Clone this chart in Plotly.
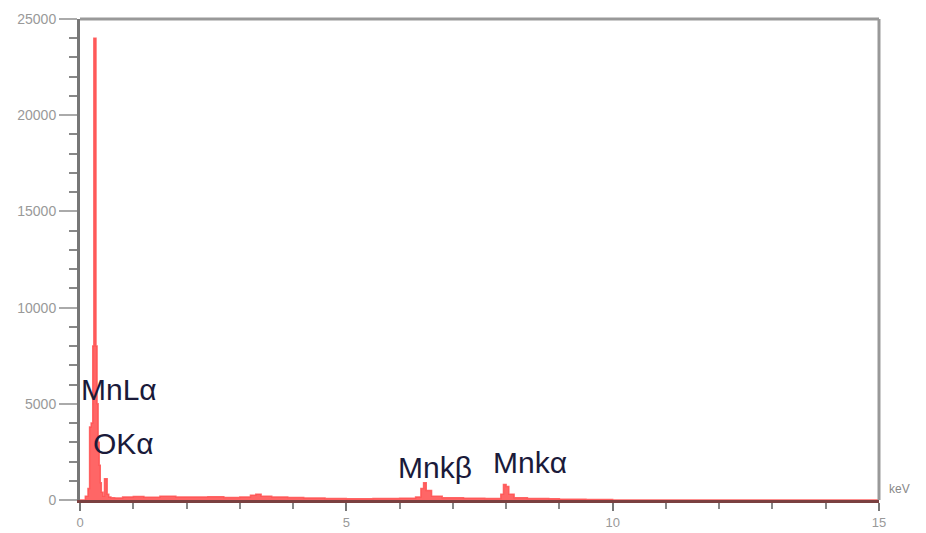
import plotly.graph_objects as go

# Spectrum (energy in keV, counts)
energy_kev = [0.00, 0.10, 0.15, 0.18, 0.21, 0.24, 0.26, 0.28, 0.30, 0.32, 0.34, 0.36, 0.38, 0.40,
              0.43, 0.46, 0.48, 0.51, 0.54, 0.58, 0.65, 0.80, 1.00, 1.20, 1.50, 1.80, 2.10, 2.40,
              2.70, 3.00, 3.20, 3.30, 3.40, 3.60, 3.90, 4.20, 4.60, 5.00, 5.50, 6.00, 6.30, 6.40,
              6.45, 6.50, 6.60, 6.80, 7.20, 7.60, 7.90, 7.95, 8.00, 8.05, 8.15, 8.40, 8.80, 9.00,
              9.50, 10.0, 15.0]
counts = [0, 200, 600, 3800, 4000, 8000, 24000, 24000, 8000, 5000, 3000, 1800, 900, 400,
          200, 1100, 1100, 300, 150, 120, 100, 150, 180, 140, 200, 160, 150, 170,
          130, 160, 250, 300, 200, 150, 130, 110, 80, 70, 80, 90, 150, 600,
          900, 500, 200, 120, 90, 80, 300, 800, 700, 300, 120, 80, 60, 40,
          20, 0, 0]

y_tickvals = [0, 5000, 10000, 15000, 20000, 25000]
y_ticktext = ["0", "5000", "10000", "15000", "20000", "25000"]
x_tickvals = [0, 5, 10, 15]
x_ticktext = ["0", "5", "10", "15"]

peak_labels = ["MnLα", "OKα", "Mnkβ", "Mnkα"]
label_x = [0.0, 0.22, 5.95, 7.73]
label_y = [5720, 2960, 1715, 1975]

fig = go.Figure()
fig.add_trace(go.Scatter(
    x=energy_kev, y=counts, mode="lines", line=dict(color="rgba(255,80,80,0.85)", width=1.5, shape="hv"),
    fill="tozeroy", fillcolor="rgba(255,0,0,0.6)", hoverinfo="skip", showlegend=False))

for t, lx, ly in zip(peak_labels, label_x, label_y):
    fig.add_annotation(x=lx, y=ly, text=t, showarrow=False, xanchor="left", yanchor="middle",
                       borderpad=0, font=dict(family="Liberation Sans", size=30, color="#1a1a3a"))

fig.add_annotation(xref="paper", yref="paper", x=1.0, y=0.0, xshift=8, yshift=2, text="keV",
                   showarrow=False, xanchor="left", yanchor="bottom",
                   font=dict(family="Liberation Sans", size=12, color="#888"))

fig.update_layout(
    width=918, height=525, margin=dict(l=72, r=47, t=11, b=33),
    plot_bgcolor="white", paper_bgcolor="white",
    xaxis=dict(range=[0, 15], tickvals=x_tickvals, ticktext=x_ticktext, showgrid=False, zeroline=False,
               automargin=False,
               showline=True, linecolor="#7a4040", linewidth=3, mirror=False, ticks="outside", ticklen=8,
               tickcolor="#777", tickwidth=2,
               minor=dict(dtick=1, ticks="outside", ticklen=6, tickcolor="#888", tickwidth=2),
               tickfont=dict(family="Liberation Sans", size=13, color="#999")),
    yaxis=dict(range=[0, 25000], tickvals=y_tickvals, ticktext=y_ticktext, showgrid=False, zeroline=False,
               automargin=False,
               showline=True, linecolor="#777", linewidth=3, ticks="outside", ticklen=18,
               tickcolor="#aaa", tickwidth=2,
               minor=dict(dtick=1000, ticks="outside", ticklen=8, tickcolor="#888", tickwidth=2),
               tickfont=dict(family="Liberation Sans", size=14, color="#999")),
    shapes=[
        dict(type="line", xref="paper", yref="paper", x0=0, x1=1, y0=1, y1=1, line=dict(color="#999", width=3)),
        dict(type="line", xref="paper", yref="paper", x0=1, x1=1, y0=0, y1=1, line=dict(color="#999", width=3)),
    ],
)

fig.write_html("out.html")
